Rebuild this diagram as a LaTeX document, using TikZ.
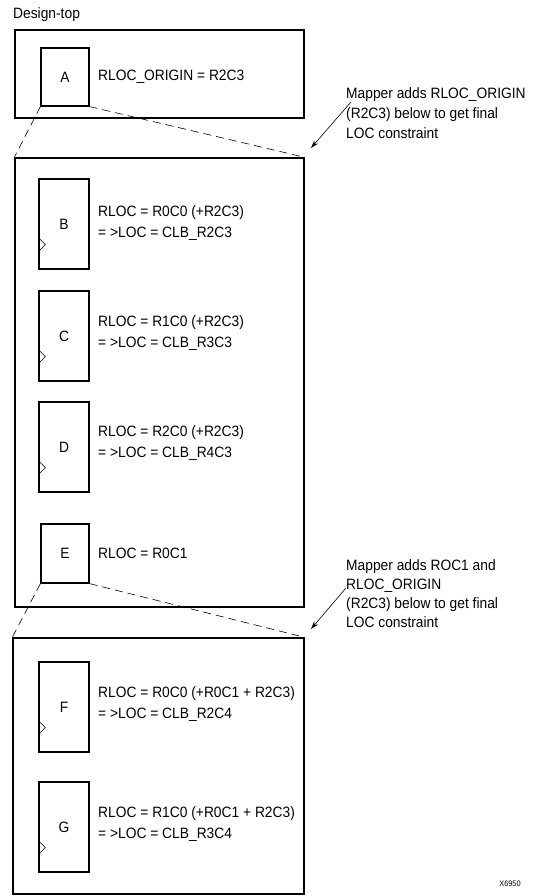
\documentclass[tikz,border=0pt]{standalone}
\usepackage{fontspec}
\setmainfont{Liberation Sans}[FakeStretch=0.92]
\usetikzlibrary{arrows.meta,calc}
\begin{document}
\begin{tikzpicture}[x=1pt,y=-1pt,
  every node/.style={font=\fontsize{15}{20}\selectfont},
  outerbox/.style={draw, line width=1.4pt, inner sep=0pt},
  cellbox/.style={draw, line width=1.2pt, minimum width=50pt, minimum height=90pt, inner sep=0pt},
  smallcell/.style={draw, line width=1.2pt, minimum width=48pt, minimum height=58pt, inner sep=0pt},
  lbl/.style={anchor=west, align=left, inner sep=0pt, font=\fontsize{15}{21}\selectfont},
  note/.style={anchor=north west, align=left, inner sep=0pt},
  zoomline/.style={dash pattern=on 8pt off 5pt, line width=0.6pt},
  pointer/.style={-{Stealth[length=8pt,width=5pt]}, line width=0.6pt},
  clk/.style={line width=0.6pt}]
\useasboundingbox (0,0) rectangle (534,896);

\node[anchor=west, inner sep=0pt] (title) at (13,15) {Design-top};

% outer boxes
\node[outerbox, minimum width=289pt, minimum height=88pt] (top) at (159.5,74) {};
\node[outerbox, minimum width=289pt, minimum height=449pt] (mid) at (159.5,382.5) {};
\node[outerbox, minimum width=291pt, minimum height=256pt] (bot) at (158.5,766) {};

% top level
\node[smallcell] (A) at (65,77) {A};
\node[lbl] (Alab) at (98,77) {RLOC\_ORIGIN = R2C3};

% middle level
\node[cellbox] (B) at (64,224) {B};
\node[lbl] (Blab) at (98,223) {RLOC = R0C0 (+R2C3)\\= >LOC = CLB\_R2C3};
\node[cellbox] (C) at (64,336) {C};
\node[lbl] (Clab) at (98,333) {RLOC = R1C0 (+R2C3)\\= >LOC = CLB\_R3C3};
\node[cellbox] (D) at (64,447) {D};
\node[lbl] (Dlab) at (98,443) {RLOC = R2C0 (+R2C3)\\= >LOC = CLB\_R4C3};
\node[smallcell, minimum height=59pt] (E) at (65,553.5) {E};
\node[lbl] (Elab) at (98,553) {RLOC = R0C1};

% bottom level
\node[cellbox] (F) at (64,707) {F};
\node[lbl] (Flab) at (98,704) {RLOC = R0C0 (+R0C1 + R2C3)\\= >LOC = CLB\_R2C4};
\node[cellbox] (G) at (64,827) {G};
\node[lbl] (Glab) at (98,824) {RLOC = R1C0 (+R0C1 + R2C3)\\= >LOC = CLB\_R3C4};

% clock triangles
\foreach \n in {B,C,D,F,G}{
  \draw[clk] ($(\n.south west)+(0,-32)$) -- ++(7,7) -- ++(-7,7);
}

% zoom lines
\draw[zoomline] (A.south west) -- (mid.north west);
\draw[zoomline] (A.south east) -- (mid.north east);
\draw[zoomline] (E.south west) -- (bot.north west);
\draw[zoomline] (E.south east) -- (bot.north east);

% annotations
\node[note, font=\fontsize{15}{20}\selectfont] (n1) at (346,87.6)
  {Mapper adds RLOC\_ORIGIN\\(R2C3) below to get final\\LOC constraint};
\node[note, font=\fontsize{15}{19}\selectfont] (n2) at (346,559.6)
  {Mapper adds ROC1 and\\RLOC\_ORIGIN\\(R2C3) below to get final\\LOC constraint};
\coordinate (n1s) at (351,102);
\coordinate (n1e) at (311,148);
\coordinate (n2s) at (346,588);
\coordinate (n2e) at (311,629);
\draw[pointer] (n1s) -- (n1e);
\draw[pointer] (n2s) -- (n2e);

\node[font=\fontsize{8}{9}\selectfont] (fig) at (510,884) {X6950};
\end{tikzpicture}
\end{document}
